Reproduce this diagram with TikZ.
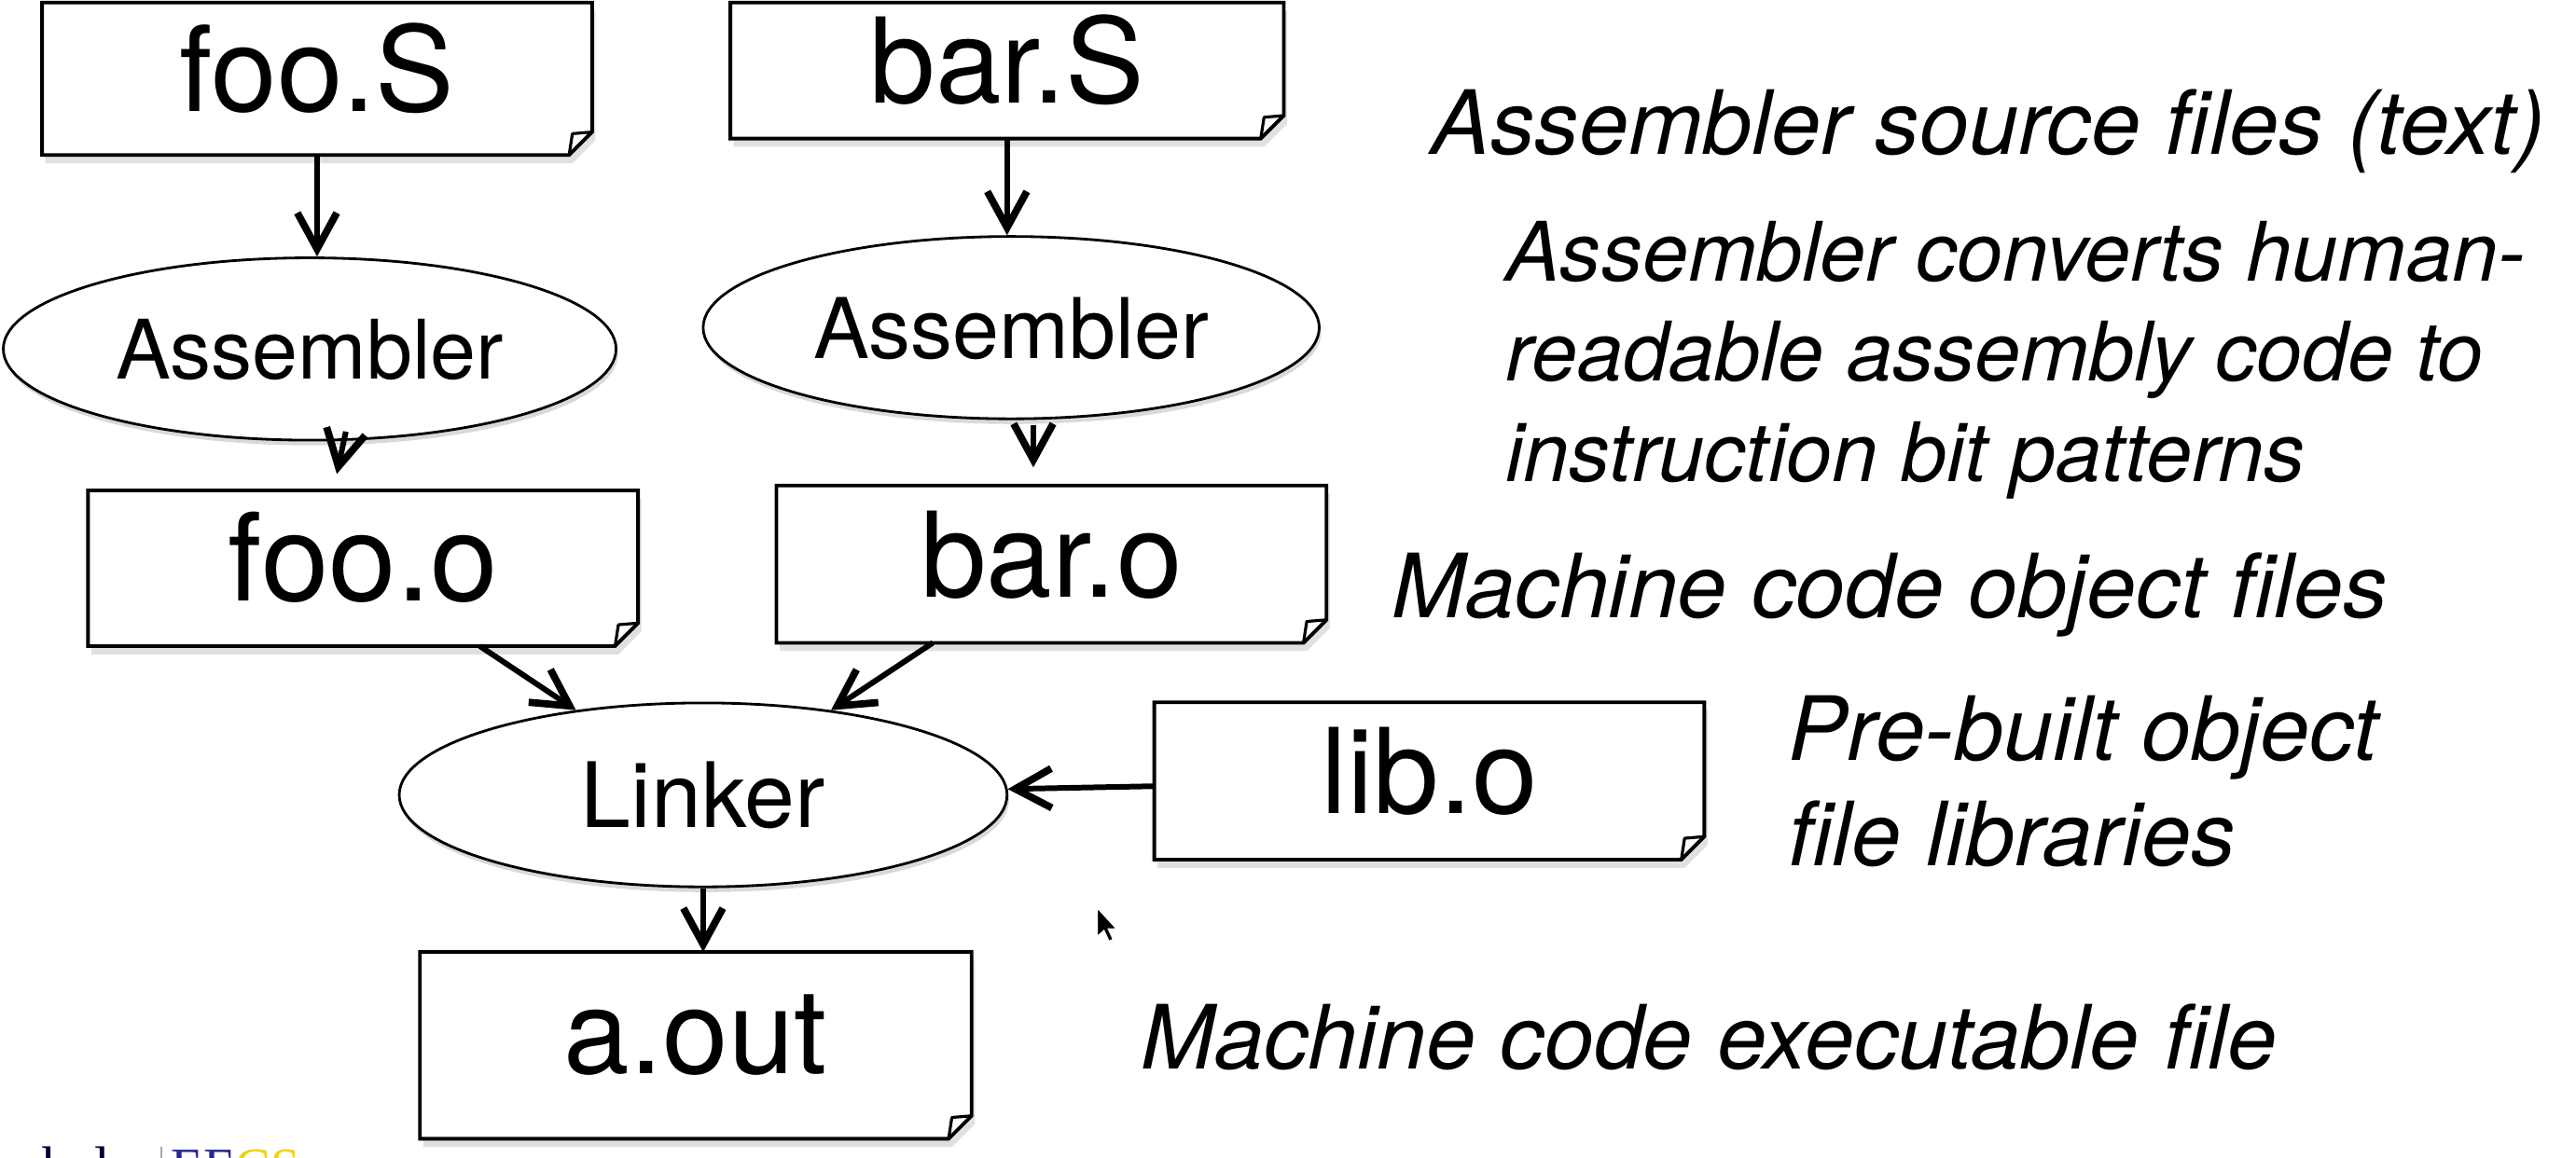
\documentclass[tikz,border=0pt]{standalone}
\usepackage{fontspec}
\setmainfont{TeX Gyre Heros}
\newfontfamily\serifft{Liberation Serif}
\usetikzlibrary{arrows.meta,shapes.geometric,backgrounds,shadows}
\definecolor{eeblue}{HTML}{27288F}
\definecolor{csgold}{HTML}{F2D200}
\begin{document}
\begin{tikzpicture}[x=0.5pt,y=-0.5pt,
  docbox/.style={draw=none, inner sep=0pt, minimum width=167pt, text height=20pt, text depth=0pt, font=\fontsize{36}{40}\selectfont},
  proc/.style={ellipse, draw, line width=0.8pt, fill=white, inner sep=0pt, text depth=0pt,
    drop shadow={shadow xshift=0.6pt, shadow yshift=-1.6pt, opacity=0.15, fill=black}},
  arr/.style={line width=1.7pt, -{Straight Barb[length=11pt,width=12pt,line width=2.2pt]}},
  note/.style={anchor=base west, inner sep=0pt, font=\fontsize{27}{30}\selectfont\itshape},
  smallnote/.style={note, font=\fontsize{25}{30}\selectfont\itshape},
  frame/.style={line width=1.1pt, fill=white, line join=miter},
  fold/.style={line width=0.9pt, line join=round},
  boxshadow/.style={fill=black, opacity=0.12}]
\useasboundingbox (0,0) rectangle (1568,705);
\clip (0,0) rectangle (1568,705);

% file boxes
\node[docbox, minimum height=46pt] (fooS) at (193,48) {foo.S};
\node[docbox, minimum width=168pt, minimum height=41pt] (barS) at (613,43) {bar.S};
\node[docbox, minimum height=47pt, font=\fontsize{37}{40}\selectfont] (fooo) at (221,346) {foo.o};
\node[docbox, minimum height=47.5pt] (baro) at (640,343.5) {bar.o};
\node[docbox, minimum height=47.5pt] (libo) at (870,475.5) {lib.o};
\node[docbox, minimum width=167.5pt, minimum height=56.5pt, text height=17pt] (aout) at (423.5,636.5) {a.out};

% process ellipses
\node[proc, minimum width=186.5pt, minimum height=55.5pt, font=\fontsize{25}{28}\selectfont] (asm1) at (188.5,212.5) {Assembler};
\node[proc, minimum width=187.5pt, minimum height=55.5pt, font=\fontsize{25.5}{28}\selectfont] (asm2) at (615.5,199.5) {Assembler};
\node[proc, minimum width=185pt, minimum height=56pt, font=\fontsize{27.5}{30}\selectfont] (link) at (428,484) {Linker};

% connectors
\draw[arr] (fooS.south) -- (fooS.south |- asm1.north);
\draw[arr] (barS.south) -- (barS.south |- asm2.north);
\draw[arr] ([shift={(22,-6)}]asm1.south) -- ([shift={(-16,-10)}]fooo.north);
\draw[arr] ([shift={(13.5,3)}]asm2.south) -- ([shift={(-11,-11)}]baro.north);
\draw[arr] (fooo) -- (link);
\draw[arr] (baro) -- (link);
\draw[arr] (libo) -- (link);
\draw[arr] (link.south) -- (link.south |- aout.north);

% descriptions
\node[note] (t1) at (871,94) {Assembler source files (text)};
\node[smallnote] (t2a) at (916,171) {Assembler converts human-};
\node[smallnote] (t2b) at (916,232) {readable assembly code to};
\node[smallnote] (t2c) at (916,293) {instruction bit patterns};
\node[note] (t3) at (847,376) {Machine code object files};
\node[note] (t4a) at (1088,463) {Pre-built object};
\node[note] (t4b) at (1088,527) {file libraries};
\node[note] (t5) at (694,651) {Machine code executable file};

% mouse pointer
\filldraw[fill=black, draw=white, line width=0.3pt] (668,553) -- (668,570) -- (672,566.5) -- (675,573) -- (677.5,572) -- (674.5,565.5) -- (679.5,565.5) -- cycle;

% cut-off footer
\node[anchor=base west, inner sep=0pt, font=\serifft\fontsize{17}{20}\selectfont, text=black!80!blue] (berk) at (-24,722) {Berkeley};
\draw[black!35, line width=0.5pt] (98,698) -- (98,720);
\node[anchor=base west, inner sep=0pt, font=\serifft\fontsize{16}{19}\selectfont] (eecs) at (104,721) {\textcolor{eeblue}{EE}\textcolor{csgold}{CS}};

\begin{scope}[on background layer]
\fill[white] (0,0) rectangle (1568,705);
\foreach \n in {fooS,barS,fooo,baro,libo,aout}{
  \fill[boxshadow] ([shift={(1pt,-2.5pt)}]\n.north west) -- ([shift={(1pt,-2.5pt)}]\n.north east) -- ([shift={(1pt,4.5pt)}]\n.south east) -- ([shift={(-6pt,-2.5pt)}]\n.south east) -- ([shift={(1pt,-2.5pt)}]\n.south west) -- cycle;
  \draw[frame] (\n.north west) -- (\n.north east) -- ([yshift=7pt]\n.south east) -- ([xshift=-7pt]\n.south east) -- (\n.south west) -- cycle;
  \draw[fold] ([xshift=-7pt]\n.south east) -- ([shift={(-6pt,6.5pt)}]\n.south east) -- ([yshift=7pt]\n.south east);
}
\end{scope}
\end{tikzpicture}
\end{document}
